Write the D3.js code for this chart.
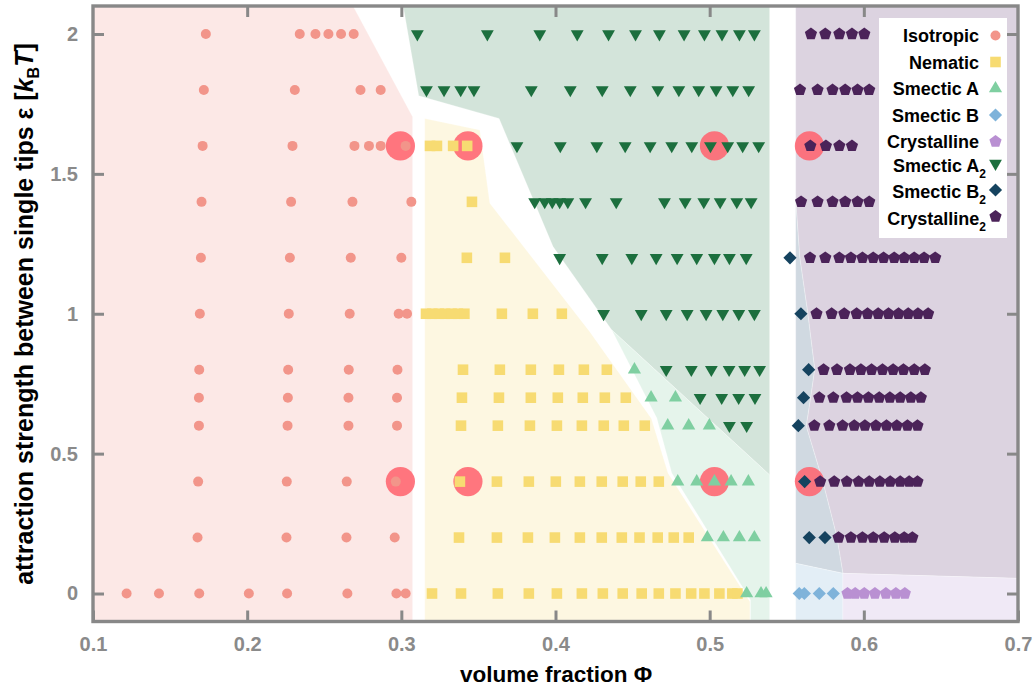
<!DOCTYPE html>
<html>
<head>
<meta charset="utf-8">
<script src="https://cdn.jsdelivr.net/npm/d3@7"></script>
<style>
  body { margin: 0; background: #fff; }
  svg { display: block; }
  text { font-family: "Liberation Sans Narrow", "Arial Narrow", "Liberation Sans", Arial, sans-serif; font-weight: bold; }
  .legend text { font-family: "Liberation Sans", Arial, sans-serif; }
</style>
</head>
<body>
<svg id="chart" width="1033" height="688"></svg>
<script>
// ---- phase points: [epsilon, [volume fractions]] ----
const isotropicRows = [
  [2.0, [0.1732, 0.2341, 0.2443, 0.2527, 0.2609, 0.2691]],
  [1.8, [0.1719, 0.2309, 0.2735, 0.2866]],
  [1.6, [0.1711, 0.2294, 0.2696, 0.2790, 0.2866, 0.3028]],
  [1.4, [0.1704, 0.2285, 0.2683, 0.3065]],
  [1.2, [0.1700, 0.2277, 0.2672, 0.3000]],
  [1.0, [0.1693, 0.2270, 0.2665, 0.2983, 0.3037]],
  [0.8, [0.1689, 0.2266, 0.2659, 0.2975]],
  [0.7, [0.1687, 0.2264, 0.2657, 0.2972]],
  [0.6, [0.1687, 0.2262, 0.2657, 0.2972]],
  [0.4, [0.1682, 0.2257, 0.2646, 0.2964]],
  [0.2, [0.1678, 0.2255, 0.2644, 0.2957]],
  [0.0, [0.1218, 0.1428, 0.1689, 0.2011, 0.2259, 0.2650, 0.2968, 0.3028]]
];
const nematicRows = [
  [1.6, [0.3186, 0.3231, 0.3336, 0.3427]],
  [1.4, [0.3458]],
  [1.2, [0.3425, 0.3672]],
  [1.0, [0.3160, 0.3201, 0.3243, 0.3284, 0.3326, 0.3367, 0.3409, 0.3652, 0.3853, 0.4041]],
  [0.8, [0.3400, 0.3639, 0.3840, 0.4022, 0.4184, 0.4333]],
  [0.7, [0.3393, 0.3633, 0.3840, 0.4015, 0.4177, 0.4320, 0.4456]],
  [0.6, [0.3387, 0.3626, 0.3834, 0.4009, 0.4171, 0.4313, 0.4443, 0.4579]],
  [0.4, [0.3380, 0.3620, 0.3827, 0.4002, 0.4158, 0.4300, 0.4436, 0.4553, 0.4670]],
  [0.2, [0.3374, 0.3620, 0.3821, 0.3996, 0.4158, 0.4300, 0.4430, 0.4545, 0.4663, 0.4767, 0.4864]],
  [0.0, [0.3199, 0.3387, 0.3626, 0.3827, 0.4009, 0.4171, 0.4307, 0.4436, 0.4559, 0.4670, 0.4778, 0.4880, 0.4966, 0.5063, 0.5147, 0.5180]]
];
const smecticARows = [
  [0.8, [0.4512]],
  [0.7, [0.4620, 0.4778]],
  [0.6, [0.4728, 0.4864, 0.4998]],
  [0.4, [0.4793, 0.4916, 0.5031, 0.5139, 0.5251]],
  [0.2, [0.4985, 0.5089, 0.5193, 0.5290]],
  [0.0, [0.5240, 0.5333, 0.5366]]
];
const smecticBRows = [
  [0.0, [0.5581, 0.5614, 0.5711, 0.5802]]
];
const crystallineRows = [
  [0.0, [0.5894, 0.5944, 0.6003, 0.6072, 0.6143, 0.6208, 0.6266]]
];
const smecticA2Rows = [
  [2.0, [0.3104, 0.3558, 0.3898, 0.4141, 0.4344, 0.4519, 0.4674, 0.4834, 0.4966, 0.5080, 0.5193, 0.5290]],
  [1.8, [0.3163, 0.3277, 0.3385, 0.3471, 0.3843, 0.4096, 0.4303, 0.4485, 0.4664, 0.4800, 0.4929, 0.5042, 0.5150, 0.5253]],
  [1.6, [0.3750, 0.4031, 0.4268, 0.4452, 0.4614, 0.4754, 0.4884, 0.5005, 0.5117, 0.5214, 0.5318]],
  [1.4, [0.3865, 0.3930, 0.3979, 0.4027, 0.4080, 0.4195, 0.4394, 0.4707, 0.4841, 0.4962, 0.5068, 0.5176, 0.5269]],
  [1.2, [0.4027, 0.4303, 0.4495, 0.4653, 0.4789, 0.4916, 0.5031, 0.5128, 0.5237]],
  [1.0, [0.4312, 0.4556, 0.4718, 0.4854, 0.4977, 0.5085, 0.5189, 0.5290]],
  [0.8, [0.4718, 0.4881, 0.5011, 0.5126, 0.5227, 0.5324]],
  [0.7, [0.4938, 0.5078, 0.5188, 0.5294]],
  [0.6, [0.5128, 0.5240]]
];
const smecticB2Rows = [
  [1.2, [0.5521]],
  [1.0, [0.5592]],
  [0.8, [0.5642]],
  [0.7, [0.5609]],
  [0.6, [0.5575]],
  [0.4, [0.5616]],
  [0.2, [0.5646, 0.5748]]
];
const crystalline2Rows = [
  [2.0, [0.5657, 0.5750, 0.5841, 0.5923, 0.6003]],
  [1.8, [0.5586, 0.5700, 0.5797, 0.5879, 0.5959, 0.6035]],
  [1.6, [0.5653, 0.5754, 0.5841, 0.5923]],
  [1.4, [0.5593, 0.5700, 0.5797, 0.5879, 0.5959, 0.6035]],
  [1.2, [0.5651, 0.5750, 0.5841, 0.5916, 0.5991, 0.6061, 0.6128, 0.6197, 0.6262, 0.6327, 0.6391, 0.6463]],
  [1.0, [0.5693, 0.5791, 0.5873, 0.5953, 0.6024, 0.6093, 0.6160, 0.6225, 0.6288, 0.6351, 0.6417]],
  [0.8, [0.5739, 0.5826, 0.5910, 0.5981, 0.6050, 0.6121, 0.6190, 0.6257, 0.6327, 0.6396]],
  [0.7, [0.5711, 0.5802, 0.5888, 0.5959, 0.6030, 0.6100, 0.6169, 0.6236, 0.6305, 0.6370]],
  [0.6, [0.5679, 0.5776, 0.5862, 0.5938, 0.6007, 0.6078, 0.6147, 0.6214, 0.6283, 0.6348]],
  [0.4, [0.5717, 0.5808, 0.5890, 0.5966, 0.6035, 0.6104, 0.6171, 0.6236, 0.6294, 0.6348]],
  [0.2, [0.5836, 0.5916, 0.5991, 0.6061, 0.6132, 0.6201, 0.6262, 0.6315]]
];

// highlighted state points
const highlightPhi = [0.2994, 0.3432, 0.5031, 0.5647];
const highlightEps = [1.6, 0.4];

// ---- phase regions: polygons of [phi, eps] ----
const isotropicRegion = [[0.1, -0.1], [0.1, 2.1], [0.2687, 2.1], [0.3073, 1.704], [0.3073, -0.1]];
const nematicRegion = [[0.3152, -0.1], [0.3152, 1.698], [0.3509, 1.657], [0.3574, 1.395], [0.4222, 0.936],
  [0.4622, 0.626], [0.4730, 0.430], [0.5261, -0.029], [0.5261, -0.1]];
const smecticA2Region = [[0.3012, 2.1], [0.3113, 1.779], [0.3634, 1.698], [0.3984, 1.240], [0.4365, 0.942],
  [0.5389, 0.424], [0.5389, 2.1]];
const smecticARegion = [[0.4365, 0.942], [0.5389, 0.424], [0.5389, -0.1], [0.5265, -0.1], [0.5265, -0.023],
  [0.4754, 0.431], [0.4657, 0.627]];
const b2Edge = [[0.5558, 1.4064], [0.5584, 1.2026], [0.5636, 1.0025], [0.5681, 0.8024], [0.5655, 0.7023],
  [0.5626, 0.5987], [0.5733, 0.4021], [0.5824, 0.2051], [0.5864, 0.0722]];
const crystalline2Region = [[0.5558, 2.1], [0.7, 2.1], [0.7, 0.0543]].concat(b2Edge.slice().reverse());
const smecticB2Region = b2Edge.concat([[0.5558, 0.1079]]);
const smecticBRegion = [[0.5558, 0.1079], [0.5864, 0.0722], [0.5864, -0.1], [0.5558, -0.1]];
const crystallineRegion = [[0.5864, 0.0722], [0.7, 0.0543], [0.7, -0.1], [0.5864, -0.1]];

const xTicks = [0.1, 0.2, 0.3, 0.4, 0.5, 0.6, 0.7];
const yTicks = [0, 0.5, 1, 1.5, 2];

// ---- layout ----
const svg = d3.select("#chart");
const x = d3.scaleLinear().domain([0.1, 0.7]).range([93, 1018]);
const y = d3.scaleLinear().domain([-0.1, 2.1]).range([621.5, 6]);
const line = d3.line().x(d => x(d[0])).y(d => y(d[1]));

const regions = [
  [isotropicRegion, "#fce8e6"],
  [nematicRegion, "#fdf7e1"],
  [smecticA2Region, "#d3e4da"],
  [smecticARegion, "#e5f4eb"],
  [crystalline2Region, "#dcd3e0"],
  [smecticB2Region, "#d0d9e1"],
  [smecticBRegion, "#e3eef6"],
  [crystallineRegion, "#f0e9f6"]
];
svg.append("g").selectAll("path").data(regions).join("path")
  .attr("d", d => line(d[0]) + "Z")
  .attr("fill", d => d[1])
  .attr("stroke", "#fff").attr("stroke-opacity", 0.35).attr("stroke-width", 0.8);

// ---- marker shapes ----
function polygon(n, r, rot) {
  const pts = d3.range(n).map(i => {
    const a = rot + i * 2 * Math.PI / n;
    return [r * Math.sin(a), -r * Math.cos(a)];
  });
  return "M" + pts.map(p => p[0].toFixed(2) + "," + p[1].toFixed(2)).join("L") + "Z";
}
const shapes = {
  circle: s => d3.symbol(d3.symbolCircle, Math.PI * s * s)(),
  square: s => `M${-s/2},${-s/2}h${s}v${s}h${-s}Z`,
  triUp: s => polygon(3, s, 0),
  triDown: s => polygon(3, s, Math.PI),
  diamond: s => polygon(4, s, 0),
  pentagon: s => polygon(5, s, 0)
};

const phases = [
  { name: "Isotropic", sub: "", rows: isotropicRows, shape: "circle", size: 5, color: "#f2958a" },
  { name: "Nematic", sub: "", rows: nematicRows, shape: "square", size: 10.6, color: "#f7db72" },
  { name: "Smectic A", sub: "", rows: smecticARows, shape: "triUp", size: 7.6, color: "#7fcfa1" },
  { name: "Smectic B", sub: "", rows: smecticBRows, shape: "diamond", size: 6.6, color: "#7fb3da" },
  { name: "Crystalline", sub: "", rows: crystallineRows, shape: "pentagon", size: 6.4, color: "#b990d2" },
  { name: "Smectic A", sub: "2", rows: smecticA2Rows, shape: "triDown", size: 7.4, color: "#1c6f3e" },
  { name: "Smectic B", sub: "2", rows: smecticB2Rows, shape: "diamond", size: 6.6, color: "#15435f" },
  { name: "Crystalline", sub: "2", rows: crystalline2Rows, shape: "pentagon", size: 6.4, color: "#4b2359" }
];

// highlighted state points under the markers
const hl = highlightEps.flatMap(e => highlightPhi.map(p => [p, e]));
svg.append("g").selectAll("circle").data(hl).join("circle")
  .attr("cx", d => x(d[0])).attr("cy", d => y(d[1])).attr("r", 14.6)
  .attr("fill", "#ff6470").attr("fill-opacity", 0.88);

phases.forEach(ph => {
  const pts = ph.rows.flatMap(r => r[1].map(p => [p, r[0]]));
  svg.append("g").selectAll("path").data(pts).join("path")
    .attr("transform", d => `translate(${x(d[0])},${y(d[1])})`)
    .attr("d", shapes[ph.shape](ph.size))
    .attr("fill", ph.color);
});

// ---- frame and axes ----
const axisColor = "#888888";
svg.append("rect").attr("x", x(0.1)).attr("y", y(2.1))
  .attr("width", x(0.7) - x(0.1)).attr("height", y(-0.1) - y(2.1))
  .attr("fill", "none").attr("stroke", axisColor).attr("stroke-width", 3.4);

function styleAxis(g, labels) {
  g.select(".domain").remove();
  g.selectAll(".tick line").attr("stroke", axisColor).attr("stroke-width", 3);
  g.selectAll(".tick text")
    .attr("fill", labels ? "#8a8a8a" : "none")
    .style("font-size", "20px");
}
svg.append("g").attr("transform", `translate(0,${y(-0.1)})`)
  .call(d3.axisBottom(x).tickValues(xTicks).tickFormat(d3.format(".1f")).tickSize(-11).tickPadding(15))
  .call(g => styleAxis(g, true));
svg.append("g").attr("transform", `translate(0,${y(2.1)})`)
  .call(d3.axisTop(x).tickValues(xTicks.slice(1, -1)).tickSize(-11).tickFormat(""))
  .call(g => styleAxis(g, false));
svg.append("g").attr("transform", `translate(${x(0.1)},0)`)
  .call(d3.axisLeft(y).tickValues(yTicks).tickFormat(d => d).tickSize(-11).tickPadding(15))
  .call(g => styleAxis(g, true));
svg.append("g").attr("transform", `translate(${x(0.7)},0)`)
  .call(d3.axisRight(y).tickValues(yTicks).tickSize(-11).tickFormat(""))
  .call(g => styleAxis(g, false));

// axis titles
svg.append("text").attr("x", 556).attr("y", 682).attr("text-anchor", "middle")
  .style("font-size", "22.5px").attr("fill", "#000").text("volume fraction Φ");

const yt = svg.append("text").attr("transform", "translate(33,314) rotate(-90)")
  .attr("text-anchor", "middle").style("font-size", "25px").attr("fill", "#000");
yt.append("tspan").text("attraction strength between single tips ε [");
yt.append("tspan").style("font-style", "italic").text("k");
yt.append("tspan").attr("dy", 6).style("font-size", "16px").text("B");
yt.append("tspan").attr("dy", -6).style("font-style", "italic").text("T");
yt.append("tspan").text("]");

// ---- legend ----
const lg = svg.append("g").attr("class", "legend");
lg.append("rect").attr("x", 879).attr("y", 18).attr("width", 128).attr("height", 220).attr("fill", "#fff");
const legendY = [35.5, 62, 88.5, 115, 141.5, 165, 191.5, 218];
phases.forEach((ph, i) => {
  const t = lg.append("text")
    .attr("x", ph.sub ? 986 : 979).attr("y", legendY[i] + 6.5)
    .attr("text-anchor", "end").style("font-size", "18px").attr("fill", "#000");
  t.append("tspan").text(ph.name);
  if (ph.sub) t.append("tspan").attr("dy", 6).style("font-size", "12px").text(ph.sub);
  lg.append("path")
    .attr("transform", `translate(995.5,${legendY[i] + (ph.sub ? -1.5 : 0)})`)
    .attr("d", shapes[ph.shape](ph.size))
    .attr("fill", ph.color);
});
</script>
</body>
</html>
